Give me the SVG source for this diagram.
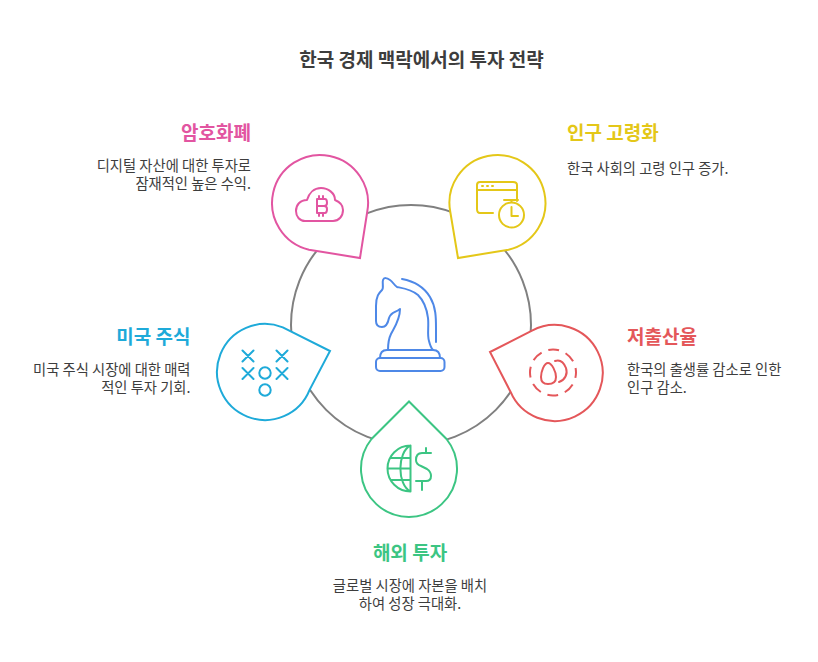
<svg xmlns="http://www.w3.org/2000/svg" width="818" height="662" viewBox="0 0 818 662">
<style>
text{font-family:"Noto Sans CJK KR","Noto Sans",sans-serif}
.t{font-size:19px;font-weight:700}
.d{font-size:14.3px;fill:#3d3d3d}
.n{fill:#fff;stroke-width:2;stroke-linejoin:miter}
.i{fill:none;stroke-width:2;stroke-linecap:round;stroke-linejoin:round}
.e{text-anchor:end}
.m{text-anchor:middle}
</style>
<rect width="818" height="662" fill="#fff"/>
<g id="connectors"><circle cx="411" cy="325" r="120" fill="none" stroke="#808080" stroke-width="2"/></g>
<text class="t m" x="421.500" y="67" fill="#3d3d3d">한국 경제 맥락에서의 투자 전략</text>
<g id="center"><g class="i" stroke="#4e88e7">
<path d="M388 350C388 343 389 338 391 334C394 328 400 320 400 309C395 313 391 312 389 318C388 323 386 327 382 327C378 327 376 325 376 321V306C376 296 379 293 382 290C384 288 382 283 383 280C384 277 387 278 390 280C393 282 394 285 397 287C402 288 411 289 418 295C425 302 427 310 428 318C429 326 427 335 429 341C430 345 431 348 433 350"/>
<path d="M402 279C413 281 424 287 430 297C436 307 436 318 436 328V342"/>
<path d="M380 358C380 353 382 350 387 350H433C438 350 440 353 440 358"/>
<rect x="376" y="358" width="68.500" height="13" rx="4"/></g></g>
<g id="pink"><path class="n" stroke="#e255a1" d="M367.200 212L360 258L309 249.700A48 48 0 1 1 367.200 212Z"/>
<g class="i" stroke="#e255a1"><path d="M305 221H333C339 221 343 216 343 210C343 205 340 202 335 200C335 193 328 188 321 188C314 188 309 193 307 200C300 200 296 205 296 211C296 217 300 221 305 221Z"/><path d="M317 199H325C327 199 327 201 327 203C327 205 326 206 324 206H317M324 206C326 206 327 207 327 209C327 211 327 213 325 213H317M317 199V213M319 196V199M323 196V199M319 213V216M323 213V216"/></g>
<text class="t e" x="251" y="140" fill="#e255a1">암호화폐</text>
<text class="d e" x="251" y="171">디지털 자산에 대한 투자로</text>
<text class="d e" x="251" y="189">잠재적인 높은 수익.</text></g>
<g id="yellow"><path class="n" stroke="#e4c718" d="M450.300 212L458 258L508.500 249.700A48 48 0 1 0 450.300 212Z"/>
<g class="i" stroke="#e4c718"><path d="M517 201V185C517 183 515 182 513 182H480C478 182 477 183 477 185V209C477 211 478 213 480 213H493M477 190H517"/><path d="M482 186H483M487 186H488M492 186H493"/><circle cx="511.500" cy="215" r="12.500"/><path d="M504 200H518M511.500 200V202M511.500 207V216H518"/></g>
<text class="t" x="567" y="140" fill="#e4c718">인구 고령화</text>
<text class="d" x="567" y="174">한국 사회의 고령 인구 증가.</text></g>
<g id="blue"><path class="n" stroke="#1eaad9" d="M282.800 327.400L330 351L309.600 389.800A48 48 0 1 1 282.800 327.400Z"/>
<g class="i" stroke="#1eaad9"><path d="M242.500 350.500L253.500 361.500M253.500 350.500L242.500 361.500M276.500 350.500L287.500 361.500M287.500 350.500L276.500 361.500M242.500 368L253.500 379M253.500 368L242.500 379M276.500 368L287.500 379M287.500 368L276.500 379"/><circle cx="265" cy="373" r="5.700"/><circle cx="265" cy="390" r="5.700"/></g>
<text class="t e" x="190.500" y="344" fill="#1eaad9">미국 주식</text>
<text class="d e" x="190.500" y="375">미국 주식 시장에 대한 매력</text>
<text class="d e" x="190.500" y="393">적인 투자 기회.</text></g>
<g id="red"><path class="n" stroke="#e4575a" d="M532 330.700L490 352L510.500 391.700A48 48 0 1 0 532 330.700Z"/>
<g class="i" stroke="#e4575a"><circle cx="553" cy="372.500" r="23" stroke-dasharray="11 7.060" stroke-dashoffset="5.500" stroke-linecap="butt"/><path d="M548 363C544 363 541 372 541 377C541 382 544 384 548 384C553 384 556 382 556 377C556 372 552 363 548 363Z"/><path d="M555 361C561 359 564 363 566 368C568 374 565 380 559 382"/></g>
<text class="t" x="627" y="344" fill="#e4575a">저출산율</text>
<text class="d" x="627" y="375">한국의 출생률 감소로 인한</text>
<text class="d" x="627" y="393">인구 감소.</text></g>
<g id="green"><path class="n" stroke="#3cc583" d="M371.500 439L409 401.500L446.500 439A48 48 0 1 1 371.500 439Z"/>
<g class="i" stroke="#3cc583"><path d="M410.500 445.500A23 23 0 0 0 410.500 491.500ZM410.500 445.500C397 452 397 485 410.500 491.500M391 458H410.500M387.500 468.500H410.500M391 480H410.500"/><path d="M431 453H422C418 453 416 456 416 460C416 463 418 465 421 466L427 469C430 471 431 473 431 476C431 479 429 481 426 481H416M426 448V453M422 481V490"/></g>
<text class="t m" x="410" y="560" fill="#3cc583">해외 투자</text>
<text class="d m" x="410" y="591">글로벌 시장에 자본을 배치</text>
<text class="d m" x="410" y="609">하여 성장 극대화.</text></g>
</svg>
